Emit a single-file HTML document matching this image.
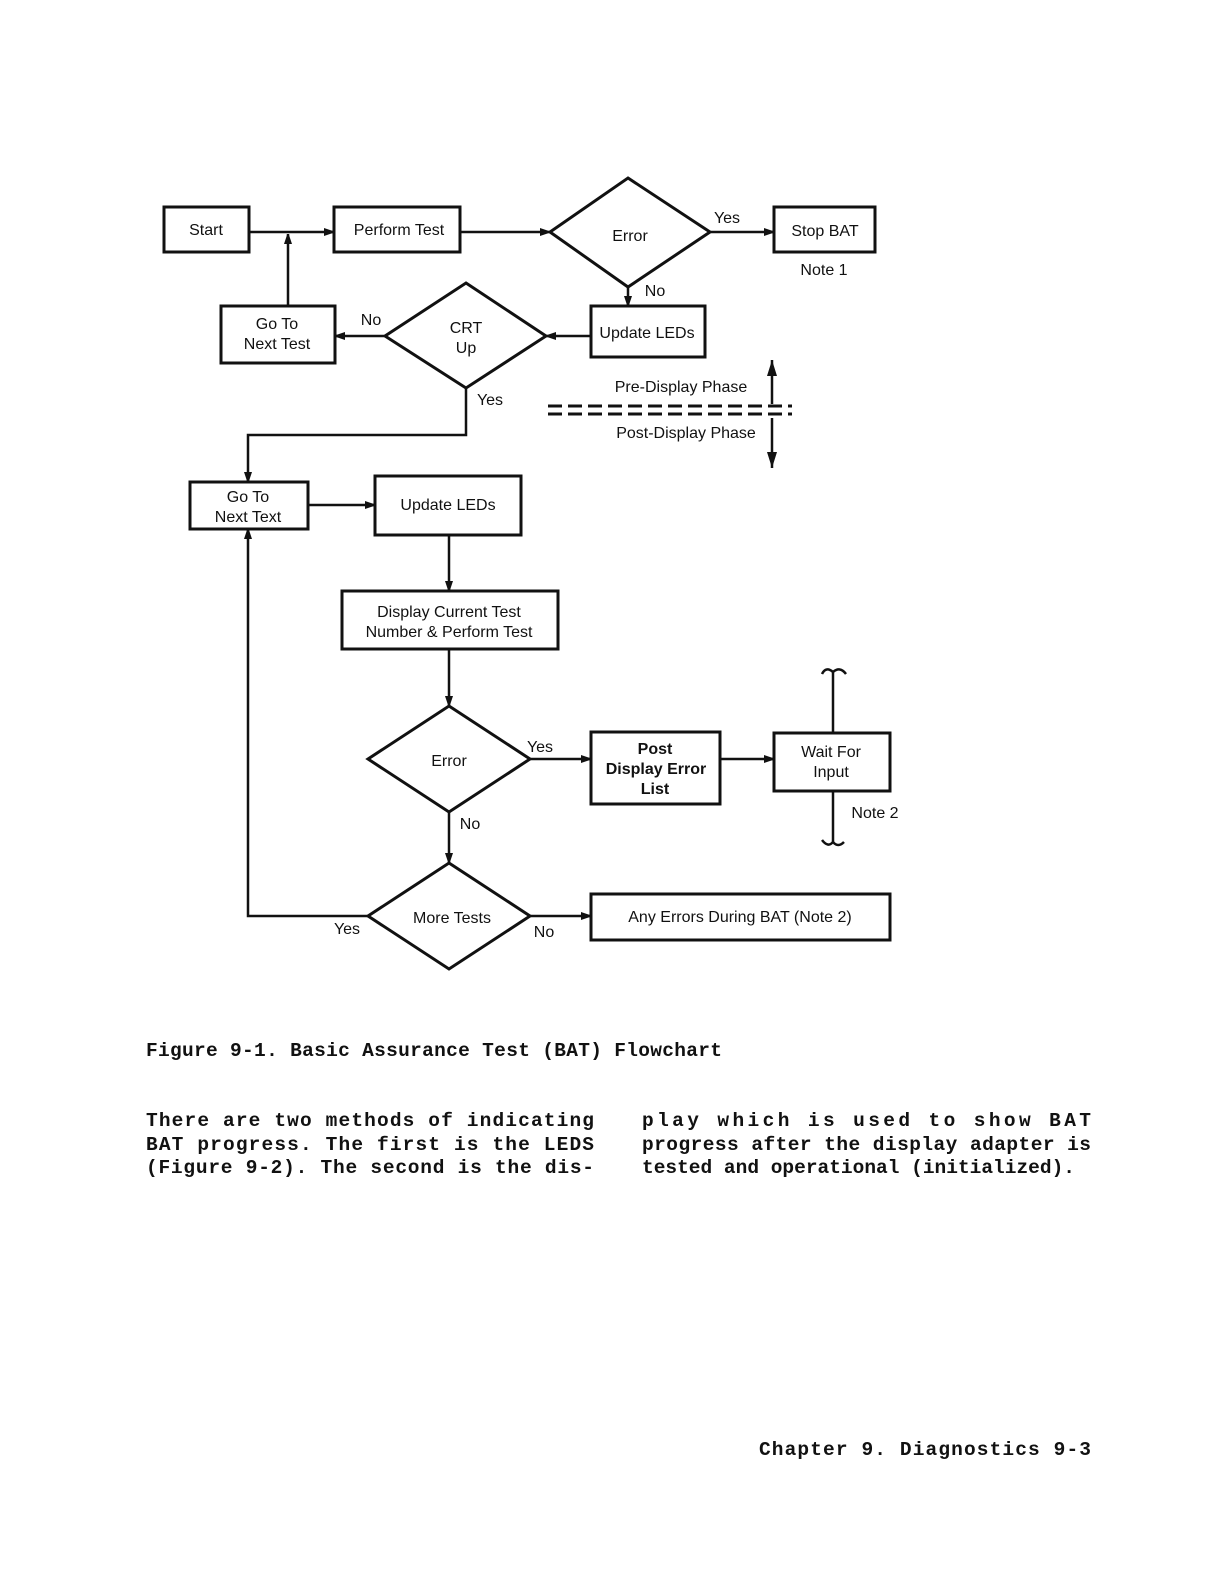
<!DOCTYPE html>
<html><head><meta charset="utf-8"><style>
html,body{margin:0;padding:0;background:#fff;}
svg{display:block;}
.l{font-family:"Liberation Sans",sans-serif;font-size:16px;fill:#111;}
.m{font-family:"Liberation Mono",monospace;font-size:19.5px;fill:#111;font-weight:bold;}
</style></head><body>
<svg width="1224" height="1584" viewBox="0 0 1224 1584" xmlns="http://www.w3.org/2000/svg">
<defs><marker id="a" markerWidth="10" markerHeight="8" refX="10" refY="4" orient="auto" markerUnits="userSpaceOnUse"><path d="M0,0 L12,4 L0,8 z" fill="#111"/></marker>
<marker id="b" markerWidth="16" markerHeight="10" refX="16" refY="5" orient="auto" markerUnits="userSpaceOnUse"><path d="M0,0 L16,5 L0,10 z" fill="#111"/></marker></defs>
<g stroke="#111" stroke-width="3" fill="none">
<rect x="164" y="207" width="85" height="45"/>
<rect x="334" y="207" width="126" height="45"/>
<polygon points="628,178 710,232 628,287 550,232"/>
<rect x="774" y="207" width="101" height="45"/>
<rect x="591" y="306" width="114" height="51"/>
<polygon points="466,283 546,336 466,388 385,336"/>
<rect x="221" y="306" width="114" height="57"/>
<rect x="190" y="482" width="118" height="47"/>
<rect x="375" y="476" width="146" height="59"/>
<rect x="342" y="591" width="216" height="58"/>
<polygon points="449,706 530,759 449,812 368,759"/>
<rect x="591" y="732" width="129" height="72"/>
<rect x="774" y="733" width="116" height="58"/>
<polygon points="449,863 530,916 449,969 368,916"/>
<rect x="591" y="894" width="299" height="46"/>
</g>
<g stroke="#111" stroke-width="2.5" fill="none">
<line x1="249" y1="232" x2="334" y2="232" marker-end="url(#a)"/>
<line x1="288" y1="306" x2="288" y2="234" marker-end="url(#a)"/>
<line x1="460" y1="232" x2="550" y2="232" marker-end="url(#a)"/>
<line x1="710" y1="232" x2="774" y2="232" marker-end="url(#a)"/>
<line x1="628" y1="287" x2="628" y2="306" marker-end="url(#a)"/>
<line x1="591" y1="336" x2="546" y2="336" marker-end="url(#a)"/>
<line x1="385" y1="336" x2="335" y2="336" marker-end="url(#a)"/>
<polyline points="466,388 466,435 248,435 248,482" marker-end="url(#a)"/>
<line x1="308" y1="505" x2="375" y2="505" marker-end="url(#a)"/>
<line x1="449" y1="535" x2="449" y2="591" marker-end="url(#a)"/>
<line x1="449" y1="649" x2="449" y2="706" marker-end="url(#a)"/>
<line x1="530" y1="759" x2="591" y2="759" marker-end="url(#a)"/>
<line x1="720" y1="759" x2="774" y2="759" marker-end="url(#a)"/>
<line x1="449" y1="812" x2="449" y2="863" marker-end="url(#a)"/>
<line x1="530" y1="916" x2="591" y2="916" marker-end="url(#a)"/>
<polyline points="368,916 248,916 248,529" marker-end="url(#a)"/>
<line x1="833" y1="672" x2="833" y2="733"/>
<path d="M822,674 Q826,666 833,672 Q840,666 846,674"/>
<line x1="833" y1="791" x2="833" y2="843"/>
<path d="M822,840 Q828,848 833,842 Q838,848 844,842"/>
<line x1="772" y1="404" x2="772" y2="360" marker-end="url(#b)"/>
<line x1="772" y1="418" x2="772" y2="468" marker-end="url(#b)"/>
<line x1="548" y1="406" x2="792" y2="406" stroke-width="3" stroke-dasharray="14,6"/>
<line x1="548" y1="414" x2="792" y2="414" stroke-width="3" stroke-dasharray="14,6"/>
</g>
<g class="l" text-anchor="middle">
<text x="206" y="235">Start</text>
<text x="399" y="235">Perform Test</text>
<text x="630" y="241">Error</text>
<text x="727" y="223">Yes</text>
<text x="825" y="236">Stop BAT</text>
<text x="824" y="275">Note 1</text>
<text x="655" y="296">No</text>
<text x="647" y="338">Update LEDs</text>
<text x="466" y="333">CRT</text>
<text x="466" y="353">Up</text>
<text x="371" y="325">No</text>
<text x="277" y="329">Go To</text>
<text x="277" y="349">Next Test</text>
<text x="490" y="405">Yes</text>
<text x="681" y="392">Pre-Display Phase</text>
<text x="686" y="438">Post-Display Phase</text>
<text x="248" y="502">Go To</text>
<text x="248" y="522">Next Text</text>
<text x="448" y="510">Update LEDs</text>
<text x="449" y="617">Display Current Test</text>
<text x="449" y="637">Number &amp; Perform Test</text>
<text x="449" y="766">Error</text>
<text x="540" y="752">Yes</text>
<text x="470" y="829">No</text>
<text x="655" y="754" font-weight="bold">Post</text>
<text x="656" y="774" font-weight="bold">Display Error</text>
<text x="655" y="794" font-weight="bold">List</text>
<text x="831" y="757">Wait For</text>
<text x="831" y="777">Input</text>
<text x="875" y="818">Note 2</text>
<text x="452" y="923">More Tests</text>
<text x="347" y="934">Yes</text>
<text x="544" y="937">No</text>
<text x="740" y="922">Any Errors During BAT (Note 2)</text>
</g>
<g class="m">
<text x="146" y="1056" textLength="576" lengthAdjust="spacing">Figure  9-1. Basic Assurance Test (BAT) Flowchart</text>
<text x="146" y="1126" textLength="448" lengthAdjust="spacing">There are two methods of indicating</text>
<text x="146" y="1150" textLength="448" lengthAdjust="spacing">BAT progress.  The first is the LEDS</text>
<text x="146" y="1173" textLength="448" lengthAdjust="spacing">(Figure 9-2).  The second is the dis-</text>
<text x="642" y="1126" textLength="449" lengthAdjust="spacing">play which is used to show BAT</text>
<text x="642" y="1150" textLength="449" lengthAdjust="spacing">progress after the display adapter is</text>
<text x="642" y="1173">tested and operational (initialized).</text>
<text x="759" y="1455" textLength="332" lengthAdjust="spacing">Chapter 9.  Diagnostics  9-3</text>
</g>
</svg>
</body></html>
